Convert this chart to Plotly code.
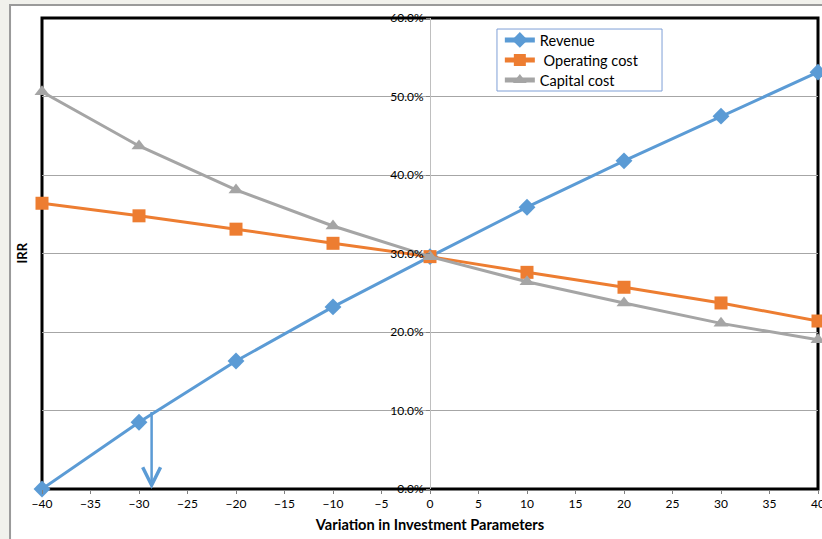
import plotly.graph_objects as go

variation = [-40, -30, -20, -10, 0, 10, 20, 30, 40]
revenue = [0.000, 0.085, 0.163, 0.232, 0.296, 0.359, 0.418, 0.475, 0.531]
operating_cost = [0.364, 0.348, 0.331, 0.313, 0.296, 0.276, 0.257, 0.237, 0.214]
capital_cost = [0.506, 0.437, 0.381, 0.335, 0.296, 0.264, 0.237, 0.211, 0.190]

x_ticks = list(range(-40, 41, 5))
y_ticks = [0.0, 0.1, 0.2, 0.3, 0.4, 0.5, 0.6]

arrow_x = -28.7
arrow_from = 0.10
arrow_to = 0.0

FONT = "Lato"
BLUE = "#5B9BD5"
ORANGE = "#ED7D31"
GRAY = "#A5A5A5"

legend_names = ["Revenue", " Operating cost", "Capital cost"]
legend_ids = ["legend", "legend2", "legend3"]
legend_y = [0.9533, 0.9108, 0.8684]

fig = go.Figure()
fig.add_trace(go.Scatter(x=variation, y=revenue, name=legend_names[0], mode="lines+markers",
                         line=dict(color=BLUE, width=3),
                         marker=dict(symbol="diamond", size=13, color=BLUE),
                         cliponaxis=False, legend=legend_ids[0]))
fig.add_trace(go.Scatter(x=variation, y=operating_cost, name=legend_names[1], mode="lines+markers",
                         line=dict(color=ORANGE, width=3),
                         marker=dict(symbol="square", size=13, color=ORANGE),
                         cliponaxis=False, legend=legend_ids[1]))
fig.add_trace(go.Scatter(x=variation, y=capital_cost, name=legend_names[2], mode="lines+markers",
                         line=dict(color=GRAY, width=3),
                         marker=dict(symbol="triangle-up", size=13, color=GRAY),
                         cliponaxis=False, legend=legend_ids[2]))

legend_common = dict(x=0.590, xanchor="left", yanchor="middle", bgcolor="rgba(0,0,0,0)",
                     borderwidth=0, font=dict(family=FONT, size=14.5, color="#000000"),
                     itemwidth=30, itemsizing="constant")

fig.update_layout(
    width=822, height=539,
    margin=dict(l=42, r=4, t=18, b=50),
    paper_bgcolor="#F1F1EC",
    plot_bgcolor="rgba(0,0,0,0)",
    font=dict(family=FONT, size=12, color="#000000"),
    showlegend=True,
    legend=dict(y=legend_y[0], **legend_common),
    legend2=dict(y=legend_y[1], **legend_common),
    legend3=dict(y=legend_y[2], **legend_common),
    shapes=[
        dict(type="rect", xref="paper", yref="paper", x0=-0.0412, x1=1.02, y0=-0.13, y1=1.0276,
             fillcolor="white", line=dict(color="#9A9A9A", width=2), layer="below"),
        dict(type="rect", xref="paper", yref="paper", x0=0, x1=1, y0=0, y1=1,
             fillcolor="rgba(0,0,0,0)", line=dict(color="black", width=3), layer="below"),
        dict(type="rect", xref="paper", yref="paper", x0=0.5863, x1=0.799, y0=0.845, y1=0.9766,
             fillcolor="white", line=dict(color="#7F9FD6", width=1), layer="below"),
    ],
    xaxis=dict(range=[-40, 40], tickvals=x_ticks, ticks="outside", ticklen=4, tickcolor="#808080",
               showgrid=False, zeroline=True, zerolinecolor="#BFBFBF", zerolinewidth=1,
               title=dict(text="<b>Variation in Investment Parameters</b>",
                          font=dict(family=FONT, size=14.6), standoff=9),
               tickfont=dict(family=FONT, size=12), automargin=False,
               ticklabeloverflow="allow"),
    yaxis=dict(range=[0, 0.6], tickvals=y_ticks, tickformat=".1%", ticks="outside", ticklen=4,
               tickcolor="#808080", showgrid=True, gridcolor="#A6A6A6", gridwidth=1,
               zeroline=False, anchor="free", position=0.5, showline=False,
               tickfont=dict(family=FONT, size=12), automargin=False),
    annotations=[
        dict(text="<b>IRR</b>", xref="paper", yref="paper", x=-0.027, y=0.5, showarrow=False,
             textangle=-90, font=dict(family=FONT, size=13), xanchor="center", yanchor="middle"),
    ],
)

fig.add_annotation(x=arrow_x, y=arrow_to, ax=arrow_x, ay=arrow_from, axref="x", ayref="y",
                   xref="x", yref="y", text="", showarrow=True, arrowhead=5, arrowsize=1.4,
                   arrowwidth=2.5, arrowcolor=BLUE)

fig.write_html("out.html", config={"displayModeBar": False},
               post_script="document.body.style.margin='0';")
